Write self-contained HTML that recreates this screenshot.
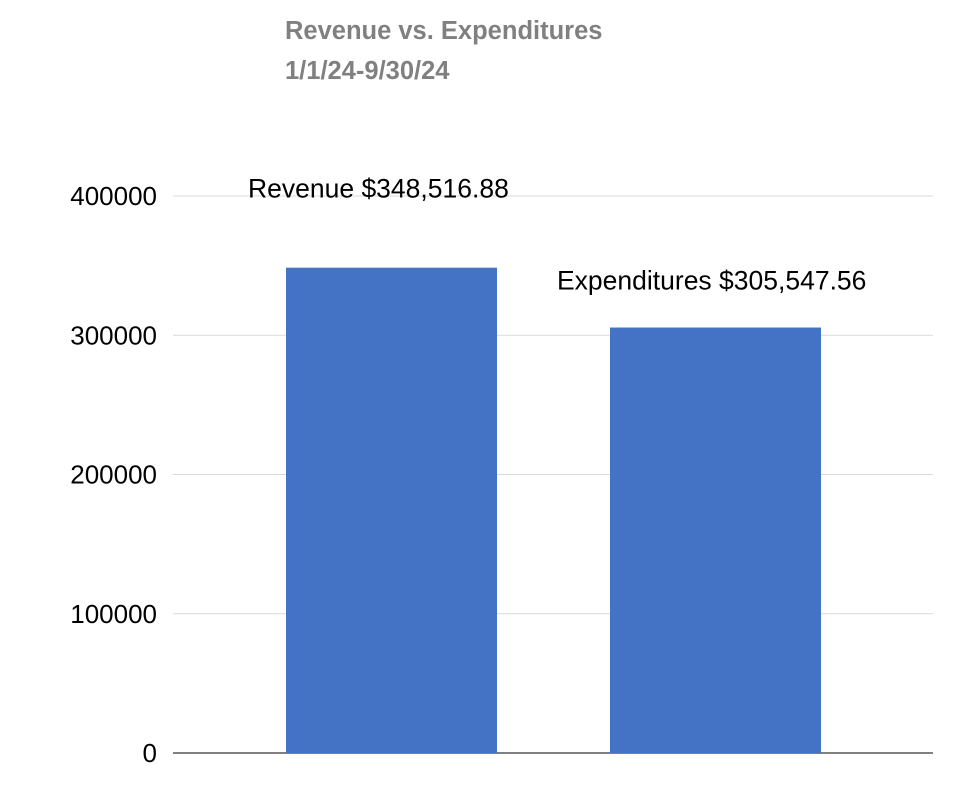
<!DOCTYPE html>
<html><head><meta charset="utf-8"><style>
body{margin:0;background:#fff;width:963px;height:799px;overflow:hidden}
svg text{font-family:"Liberation Sans",sans-serif}
</style></head><body>
<svg id="chart" width="963" height="799" xmlns="http://www.w3.org/2000/svg">
<text x="285" y="39" font-size="25.5" font-weight="bold" fill="#808080">Revenue vs. Expenditures</text>
<text x="285" y="79" font-size="25.5" font-weight="bold" fill="#808080">1/1/24-9/30/24</text>
<g id="grid"></g><g id="bars"></g><g id="labels"></g>
</svg>
<script>
const categories=["Revenue","Expenditures"];
const values=[348516.88,305547.56];
const valueLabels=["Revenue $348,516.88","Expenditures $305,547.56"];
const ticks=[0,100000,200000,300000,400000];
const NS="http://www.w3.org/2000/svg";
const x0=173,x1=933,yBase=753,yTop=196,maxV=400000;
const y=v=>yBase-(v/maxV)*(yBase-yTop);
const band=324;
const bw=211;
const xc=i=>391.5+band*i;
function mk(t,a,p){const e=document.createElementNS(NS,t);for(const k in a)e.setAttribute(k,a[k]);p.appendChild(e);return e;}
const grid=document.getElementById('grid');
ticks.forEach(t=>{
 const l=mk('line',{x1:x0,x2:x1,y1:y(t),y2:y(t),stroke:t===0?'#000':'#d9d9d9','stroke-width':1},grid);
 
 
 const tx=mk('text',{x:157,y:y(t)+9,'text-anchor':'end','font-size':26,fill:'#000'},grid);
 tx.textContent=t;
 
 
});
const bars=document.getElementById('bars'),labels=document.getElementById('labels');
const labelX=[248,557];
categories.forEach((c,i)=>{
 const r=mk('rect',{x:xc(i)-bw/2,y:y(values[i]),width:bw,height:yBase-y(values[i]),fill:'#4472c4'},bars);
 
 
 const t=mk('text',{x:labelX[i],y:y(values[i])-70+(i===1?32:0),'font-size':26.5,fill:'#000'},labels);
 t.textContent=valueLabels[i];
 
 
});
</script>
</body></html>
